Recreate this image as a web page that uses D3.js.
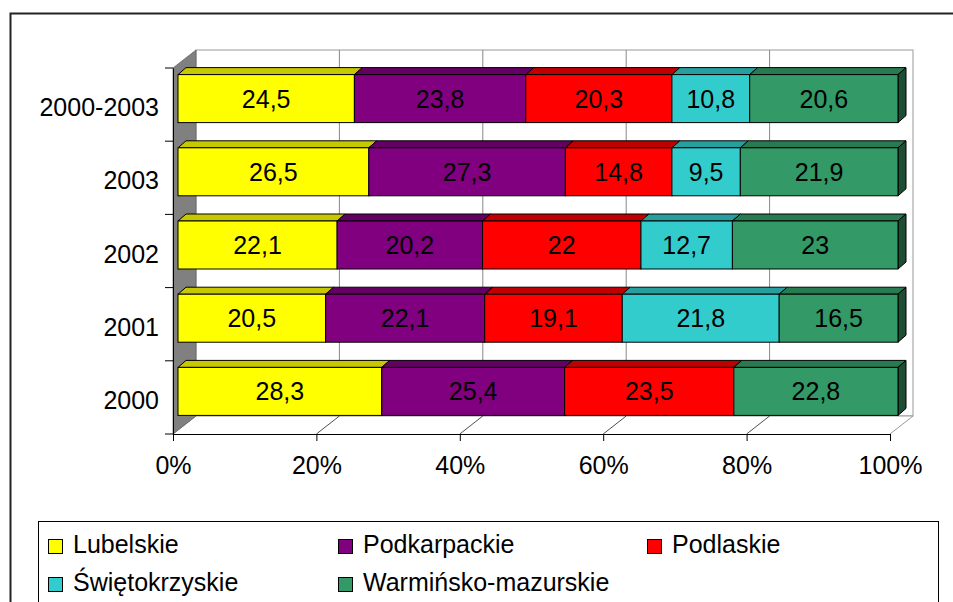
<!DOCTYPE html>
<html>
<head>
<meta charset="utf-8">
<script src="https://cdn.jsdelivr.net/npm/d3@7"></script>
<style>
  body { margin: 0; background: #fff; }
  text { font-family: "Liberation Sans", Arial, sans-serif; }
</style>
</head>
<body>
<div id="chart"></div>
<script>
// data
var categories = ["2000-2003", "2003", "2002", "2001", "2000"];
var seriesNames = ["Lubelskie", "Podkarpackie", "Podlaskie", "Świętokrzyskie", "Warmińsko-mazurskie"];
var lubelskie      = [24.5, 26.5, 22.1, 20.5, 28.3];
var podkarpackie   = [23.8, 27.3, 20.2, 22.1, 25.4];
var podlaskie      = [20.3, 14.8, 22.0, 19.1, 23.5];
var swietokrzyskie = [10.8,  9.5, 12.7, 21.8,  0];
var warminsko      = [20.6, 21.9, 23.0, 16.5, 22.8];
var xTicks = [0, 0.2, 0.4, 0.6, 0.8, 1];

var frontColors = ["#ffff00", "#800080", "#ff0000", "#33cccc", "#339966"];
var topColors   = ["#c8c800", "#640064", "#c00000", "#289f9f", "#287a50"];
var sideColor   = "#1f4d34";

var W = 953, H = 602;
var depth = {dx: 23, dy: -18};     // wall depth
var barOff = {dx: 5, dy: -6};      // bar front plane shift
var barDepth = {dx: 8, dy: -7};    // bar thickness
var barH = 48;

var rows = categories.map(function(c, i) {
  var r = {cat: c};
  r[seriesNames[0]] = lubelskie[i];
  r[seriesNames[1]] = podkarpackie[i];
  r[seriesNames[2]] = podlaskie[i];
  r[seriesNames[3]] = swietokrzyskie[i];
  r[seriesNames[4]] = warminsko[i];
  return r;
});
var stack = d3.stack().keys(seriesNames).offset(d3.stackOffsetExpand)(rows);

var x = d3.scaleLinear().domain([0, 1]).range([173, 890]);
var xBar = d3.scaleLinear().domain([0, 1]).range([178, 898]);
var y = d3.scaleBand().domain(categories).range([68, 434]);

var svg = d3.select("#chart").append("svg")
    .attr("width", W).attr("height", H);

// outer frame
svg.append("rect")
    .attr("x", 10.5).attr("y", 13.5).attr("width", 960).attr("height", 620)
    .attr("fill", "#fff").attr("stroke", "#222").attr("stroke-width", 2);

var x0 = x(0), x1 = x(1), yTop = y.range()[0], yBot = y.range()[1];

// back wall
svg.append("rect")
    .attr("x", x0 + depth.dx).attr("y", yTop + depth.dy)
    .attr("width", x1 - x0).attr("height", yBot - yTop)
    .attr("fill", "#fff").attr("stroke", "#999");

svg.append("g").selectAll("line")
  .data(xTicks.slice(1, -1))
  .enter().append("line")
    .attr("x1", function(d) { return x(d) + depth.dx; })
    .attr("x2", function(d) { return x(d) + depth.dx; })
    .attr("y1", yTop + depth.dy).attr("y2", yBot + depth.dy)
    .attr("stroke", "#888");

// floor
svg.append("path")
    .attr("d", "M" + x0 + "," + yBot + "L" + (x0 + depth.dx) + "," + (yBot + depth.dy) +
               "L" + (x1 + depth.dx) + "," + (yBot + depth.dy) + "L" + x1 + "," + yBot)
    .attr("fill", "#fff").attr("stroke", "#999");

svg.append("g").selectAll("line")
  .data(xTicks.slice(1, -1))
  .enter().append("line")
    .attr("x1", function(d) { return x(d); })
    .attr("x2", function(d) { return x(d) + depth.dx; })
    .attr("y1", yBot).attr("y2", yBot + depth.dy)
    .attr("stroke", "#222").attr("stroke-width", 0.8);

// left side wall
svg.append("path")
    .attr("d", "M" + x0 + "," + yTop + "L" + (x0 + depth.dx) + "," + (yTop + depth.dy) +
               "L" + (x0 + depth.dx) + "," + (yBot + depth.dy) + "L" + x0 + "," + yBot + "Z")
    .attr("fill", "#808080").attr("stroke", "#666").attr("stroke-width", 0.8);

// bars
var layers = svg.append("g");
stack.forEach(function(layer, k) {
  var g = layers.append("g");
  layer.forEach(function(d) {
    if (d[1] - d[0] <= 0) return;
    var cat = d.data.cat;
    var yf = y(cat) + y.bandwidth() / 2 + barOff.dy - barH / 2;
    var xa = xBar(d[0]), xb = xBar(d[1]);
    // top face
    g.append("path")
        .attr("d", "M" + xa + "," + yf + "L" + (xa + barDepth.dx) + "," + (yf + barDepth.dy) +
                   "L" + (xb + barDepth.dx) + "," + (yf + barDepth.dy) + "L" + xb + "," + yf + "Z")
        .attr("fill", topColors[k]).attr("stroke", "#000").attr("stroke-width", 1)
        .attr("stroke-linejoin", "round");
    // side face on the far right
    if (d[1] >= 0.9999) {
      g.append("path")
          .attr("d", "M" + xb + "," + yf + "L" + (xb + barDepth.dx) + "," + (yf + barDepth.dy) +
                     "L" + (xb + barDepth.dx) + "," + (yf + barDepth.dy + barH) + "L" + xb + "," + (yf + barH) + "Z")
          .attr("fill", sideColor).attr("stroke", "#000").attr("stroke-width", 1);
    }
    // front face
    g.append("rect")
        .attr("x", xa).attr("y", yf)
        .attr("width", xb - xa).attr("height", barH)
        .attr("fill", frontColors[k]).attr("stroke", "#000").attr("stroke-width", 1);
    g.append("text")
        .attr("x", (xa + xb) / 2).attr("y", yf + barH / 2 + 9)
        .attr("text-anchor", "middle").attr("font-size", 25).attr("fill", "#000")
        .text(String(d.data[seriesNames[k]]).replace(".", ","));
  });
});

// x axis
var xAxis = svg.append("g")
    .attr("transform", "translate(0," + yBot + ")")
    .call(d3.axisBottom(x).tickValues(xTicks).tickFormat(d3.format(".0%"))
      .tickSize(7).tickSizeOuter(0).tickPadding(15));
xAxis.select(".domain").attr("stroke", "#000");
xAxis.selectAll("line").attr("stroke", "#000");
xAxis.selectAll("text").attr("font-size", 25).attr("font-family", null).attr("fill", "#000");

// y axis
var yAxis = svg.append("g")
    .attr("transform", "translate(" + x0 + ",0)")
    .call(d3.axisLeft(y).tickSize(0).tickPadding(14).tickSizeOuter(0));
yAxis.select(".domain").attr("stroke", "#000");
yAxis.selectAll("text").attr("font-size", 25).attr("font-family", null)
    .attr("fill", "#000").attr("dy", "0.32em").attr("transform", "translate(0,3.5)");

// boundary ticks on the y axis
svg.append("g").selectAll("line")
  .data(categories.map(function(c) { return y(c); }).concat([yBot]))
  .enter().append("line")
    .attr("x1", x0 - 8).attr("x2", x0)
    .attr("y1", function(d) { return d; }).attr("y2", function(d) { return d; })
    .attr("stroke", "#000");

// legend
var legend = svg.append("g");
legend.append("rect")
    .attr("x", 38.5).attr("y", 521.5).attr("width", 900).attr("height", 120)
    .attr("fill", "#fff").attr("stroke", "#000");

var legendX = [48, 338, 647];
var legendY = [539, 577];
var item = legend.selectAll("g.item")
  .data(seriesNames)
  .enter().append("g")
    .attr("class", "item")
    .attr("transform", function(d, i) {
      return "translate(" + legendX[i % 3] + "," + legendY[Math.floor(i / 3)] + ")";
    });
item.append("rect")
    .attr("x", 0.5).attr("y", 0.5).attr("width", 14).attr("height", 14)
    .attr("fill", function(d, i) { return frontColors[i]; })
    .attr("stroke", "#000");
item.append("text")
    .attr("x", 25).attr("y", 14)
    .attr("font-size", 25).attr("fill", "#000")
    .text(function(d) { return d; });
</script>
</body>
</html>
